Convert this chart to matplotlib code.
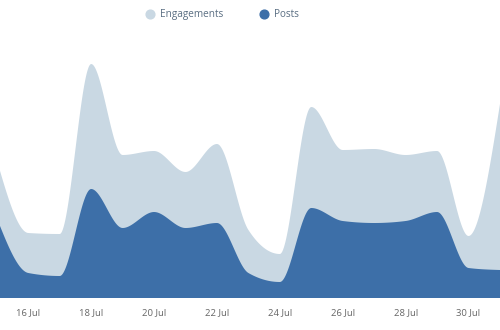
import numpy as np
import matplotlib
matplotlib.use("Agg")
import matplotlib.pyplot as plt
from matplotlib.lines import Line2D

days = [15, 16, 17, 18, 19, 20, 21, 22, 23, 24, 25, 26, 27, 28, 29, 30, 31]
engagements = [138, 65, 64, 234, 143, 147, 126, 154, 68, 44, 191, 148, 149, 143, 147, 62, 194]
posts = [80, 25, 22, 109, 70, 86, 70, 75, 25, 16, 90, 77, 75, 77, 86, 30, 28]
tick_days = [16, 18, 20, 22, 24, 26, 28, 30]
tick_labels = ["16 Jul", "18 Jul", "20 Jul", "22 Jul", "24 Jul", "26 Jul", "28 Jul", "30 Jul"]
series_names = ["Engagements", "Posts"]

C_ENG = "#c9d8e3"
C_POST = "#3d6fa8"


def monotone_x(x, y, n=40):
    x = np.asarray(x, float)
    y = np.asarray(y, float)
    h = np.diff(x)
    s = np.diff(y) / h
    m = np.zeros_like(y)
    for i in range(1, len(x) - 1):
        h0, h1 = h[i - 1], h[i]
        s0, s1 = s[i - 1], s[i]
        p = (s0 * h1 + s1 * h0) / (h0 + h1)
        m[i] = (np.sign(s0) + np.sign(s1)) * min(abs(s0), abs(s1), 0.5 * abs(p))
    m[0] = (3 * s[0] - m[1]) / 2
    m[-1] = (3 * s[-1] - m[-2]) / 2
    xs, ys = [], []
    for i in range(len(x) - 1):
        t = np.linspace(0, 1, n, endpoint=(i == len(x) - 2))
        hh = h[i]
        h00 = 2 * t**3 - 3 * t**2 + 1
        h10 = t**3 - 2 * t**2 + t
        h01 = -2 * t**3 + 3 * t**2
        h11 = t**3 - t**2
        xs.append(x[i] + t * hh)
        ys.append(h00 * y[i] + h10 * hh * m[i] + h01 * y[i + 1] + h11 * hh * m[i + 1])
    return np.concatenate(xs), np.concatenate(ys)


fig = plt.figure(figsize=(5, 3.3), dpi=100)
ax = fig.add_axes([0, 32 / 330, 1, 258 / 330])

xe, ye = monotone_x(days, engagements)
xp, yp = monotone_x(days, posts)
ax.fill_between(xe, 0, ye, color=C_ENG, lw=0)
ax.fill_between(xp, 0, yp, color=C_POST, lw=0)

ax.set_xlim(15.1, 31.0)
ax.set_ylim(0, 258)
ax.set_xticks(tick_days)
ax.set_xticklabels(tick_labels, fontsize=6.8, color="#666666", family="Open Sans")
ax.tick_params(axis="x", length=0, pad=7)
ax.set_yticks([])
for sp in ax.spines.values():
    sp.set_visible(False)

handles = [
    Line2D([], [], marker="o", ls="", markersize=6.3, color=C_ENG),
    Line2D([], [], marker="o", ls="", markersize=6.3, color=C_POST),
]
leg = fig.legend(handles, series_names, loc="center", bbox_to_anchor=(222 / 500, 1 - 14.5 / 330),
                 ncol=2, frameon=False, handletextpad=0.45, columnspacing=3.6,
                 prop={"family": "Open Sans", "size": 7.2}, handlelength=1.0)
for t in leg.get_texts():
    t.set_color("#5a6e82")

fig.savefig("out.png", dpi=100)
